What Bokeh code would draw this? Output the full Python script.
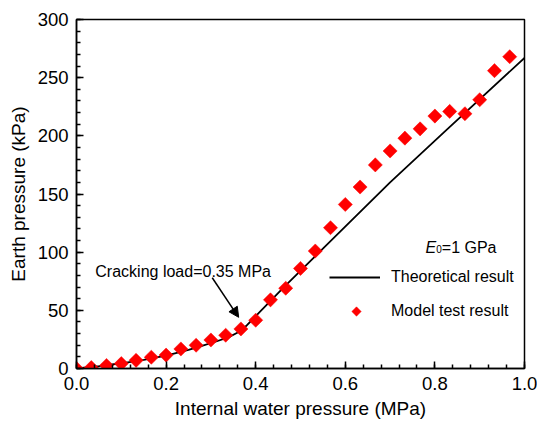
import numpy as np
from bokeh.plotting import figure
from bokeh.models import (Range1d, FixedTicker, Legend, LegendItem, Label, Arrow,
                          NormalHead, ColumnDataSource)
from bokeh.embed import file_html
from bokeh.resources import INLINE

# ---- data ----
test_pressure = [0.0, 0.033, 0.067, 0.1, 0.133, 0.167, 0.2, 0.233, 0.267, 0.3,
                 0.333, 0.367, 0.4, 0.433, 0.467, 0.5, 0.533, 0.567, 0.6, 0.633,
                 0.667, 0.7, 0.733, 0.767, 0.8, 0.833, 0.867, 0.9, 0.933, 0.967]
test_earth = [0, 0.8, 2.6, 4.2, 7, 9.7, 11.5, 16.8, 20, 24.5,
              28.6, 34, 41.5, 59, 69, 86, 101, 121, 141, 156,
              175, 187, 198, 206, 217, 221, 219, 231, 256, 268]

theory_pressure = [0, 0.05, 0.1, 0.15, 0.2, 0.25, 0.28, 0.31, 0.34, 0.36,
                   0.38, 0.40, 0.463, 0.55, 0.70, 0.82, 1.0]
theory_earth = [0, 2, 4.5, 7.5, 11, 16, 19.5, 23, 27, 31,
                37, 45, 70, 103, 160, 203, 267]

x_ticks = [0, 0.2, 0.4, 0.6, 0.8, 1.0]
y_ticks = [0, 50, 100, 150, 200, 250, 300]
x_minor = [round(i * 0.04, 2) for i in range(26)]
y_minor = list(range(0, 301, 10))

series_labels = ["Theoretical result", "Model test result"]

FONT = "Liberation Sans"
FRAME_W, FRAME_H = 448, 349

p = figure(width=537, height=422, output_backend="svg", toolbar_location=None,
           x_range=Range1d(0, 1.0), y_range=Range1d(0, 300),
           min_border_left=76, min_border_right=13, min_border_top=19,
           min_border_bottom=54)
p.extra_x_ranges = {"px": Range1d(0, FRAME_W)}
p.extra_y_ranges = {"px": Range1d(0, FRAME_H)}
p.background_fill_color = "white"
p.border_fill_color = "white"
p.xgrid.visible = False
p.ygrid.visible = False
p.outline_line_color = "black"
p.outline_line_width = 1.5

for ax in (p.xaxis[0], p.yaxis[0]):
    ax.axis_line_width = 1.5
    ax.axis_line_color = "black"
    ax.major_tick_in = 7
    ax.major_tick_out = 0
    ax.minor_tick_in = 4
    ax.minor_tick_out = 0
    ax.major_tick_line_width = 1.5
    ax.minor_tick_line_width = 1.5
    ax.major_label_text_font = FONT
    ax.major_label_text_font_size = "18.5px"
    ax.major_label_text_color = "black"
    ax.axis_label_text_font = FONT
    ax.axis_label_text_font_size = "19px"
    ax.axis_label_text_font_style = "normal"
    ax.axis_label_text_color = "black"

p.xaxis.ticker = FixedTicker(ticks=x_ticks, minor_ticks=x_minor)
p.yaxis.ticker = FixedTicker(ticks=y_ticks, minor_ticks=y_minor)
p.xaxis.major_label_overrides = {t: f"{t:.1f}" for t in x_ticks}
p.yaxis.major_label_overrides = {t: f"{t:d}" for t in y_ticks}
p.xaxis.major_label_standoff = 8
p.yaxis.major_label_standoff = 8
p.xaxis.axis_label = "Internal water pressure (MPa)"
p.yaxis.axis_label = "Earth pressure (kPa)"
p.xaxis.axis_label_standoff = 5
p.yaxis.axis_label_standoff = 6

line_r = p.line(theory_pressure, theory_earth, line_color="black", line_width=1.8)
src = ColumnDataSource(dict(x=test_pressure, y=test_earth))
pts_r = p.scatter("x", "y", source=src, marker="square", size=10, angle=np.pi / 4,
                  fill_color="#ff0000", line_color="#ff0000", line_width=0.5)

# legend: key for the markers is drawn as a rotated square (diamond) below
dummy_r = p.scatter(x=[], y=[], marker="square", fill_alpha=0, line_alpha=0)
legend = Legend(items=[LegendItem(label=series_labels[0], renderers=[line_r]),
                       LegendItem(label=series_labels[1], renderers=[dummy_r])],
                location=(253, 47), orientation="vertical",
                glyph_width=51, glyph_height=20, label_height=20, spacing=14,
                label_standoff=11, padding=0, margin=0,
                border_line_alpha=0, background_fill_alpha=0,
                label_text_font=FONT, label_text_font_size="16px",
                label_text_color="black")
p.add_layout(legend)
p.scatter(x=[280], y=[57], x_range_name="px", y_range_name="px",
          marker="square", size=6.6, angle=np.pi / 4,
          fill_color="#ff0000", line_color="#ff0000", line_width=0.5)

p.add_layout(Label(x=0.042, y=83.6, text="Cracking load=0.35 MPa", text_font=FONT,
                   text_font_size="16px", text_color="black",
                   text_baseline="alphabetic"))
p.add_layout(Arrow(end=NormalHead(size=10, fill_color="black", line_color="black"),
                   x_start=0.303, y_start=78, x_end=0.362, y_end=44,
                   line_color="black", line_width=1.5))

p.add_layout(Label(x=0.779, y=104, text="E", text_font=FONT, text_font_size="16px",
                   text_font_style="italic", text_color="black",
                   text_baseline="alphabetic"))
p.add_layout(Label(x=0.779, y=102.6, x_offset=10.7, text="0", text_font=FONT,
                   text_font_size="10px", text_color="black",
                   text_baseline="alphabetic"))
p.add_layout(Label(x=0.779, y=104, x_offset=16.3, text="=1 GPa", text_font=FONT,
                   text_font_size="16px", text_color="black",
                   text_baseline="alphabetic"))

open("out.html", "w").write(file_html(p, INLINE))
